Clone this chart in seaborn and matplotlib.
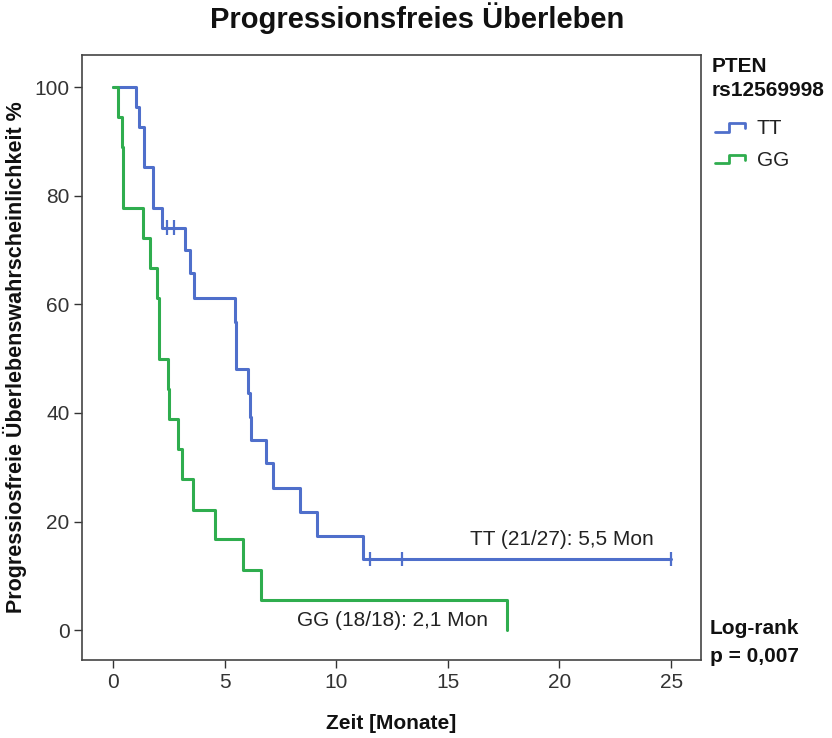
import numpy as np
import pandas as pd
import matplotlib
matplotlib.use("Agg")
import matplotlib.pyplot as plt
from matplotlib.lines import Line2D
from matplotlib.legend_handler import HandlerBase
import seaborn as sns

# Kaplan-Meier Stufen
tt_time = [0, 1.03, 1.18, 1.40, 1.81, 2.21, 3.23, 3.45, 3.64, 5.47, 5.51, 6.06, 6.13,
           6.19, 6.84, 7.15, 8.38, 9.15, 11.21, 25.0]
tt_surv = [100, 96.3, 92.6, 85.2, 77.8, 74.1, 70.0, 65.8, 61.2, 56.8, 48.0, 43.7, 39.3,
           35.0, 30.8, 26.1, 21.8, 17.4, 13.1, 13.1]
tt_cens_time = [2.40, 2.73, 11.51, 12.93, 25.0]
tt_cens_surv = [74.1, 74.1, 13.1, 13.1, 13.1]

gg_time = [0, 0.21, 0.39, 0.46, 1.33, 1.66, 1.96, 2.07, 2.48, 2.52, 2.90, 3.08, 3.57,
           4.57, 5.81, 6.63, 17.64]
gg_surv = [100, 94.4, 88.9, 77.8, 72.2, 66.7, 61.1, 50.0, 44.4, 38.9, 33.3, 27.8, 22.2,
           16.7, 11.1, 5.6, 0]

groups = ['TT', 'GG']
colors = {'TT': '#4f6fcb', 'GG': '#2fad4e'}
x_ticks = [0, 5, 10, 15, 20, 25]
y_ticks = [0, 20, 40, 60, 80, 100]

df = pd.concat([
    pd.DataFrame({'Zeit': tt_time, 'Surv': tt_surv, 'Gruppe': 'TT'}),
    pd.DataFrame({'Zeit': gg_time, 'Surv': gg_surv, 'Gruppe': 'GG'}),
])
cens = pd.DataFrame({'Zeit': tt_cens_time, 'Surv': tt_cens_surv, 'Gruppe': 'TT'})

sns.set_style('white')
plt.rcParams['font.family'] = ['Liberation Sans', 'DejaVu Sans']

fig = plt.figure(figsize=(8.32, 7.38), dpi=100)
ax = fig.add_axes([82 / 832, 1 - 660 / 738, 619 / 832, 605 / 738])

sns.lineplot(data=df, x='Zeit', y='Surv', hue='Gruppe', palette=colors,
             drawstyle='steps-post', linewidth=2.2, legend=False, ax=ax,
             estimator=None, sort=False)
sns.scatterplot(data=cens, x='Zeit', y='Surv', hue='Gruppe', palette=colors,
                marker='|', s=110, linewidth=1.6, legend=False, ax=ax, zorder=3)

ax.set_xlim(-1.39, 26.34)
ax.set_ylim(-5.5, 105.9)
ax.set_xticks(x_ticks)
ax.set_yticks(y_ticks)
ax.tick_params(axis='both', direction='out', length=6, width=1, color='#333333',
               labelsize=15, labelcolor='#333333', pad=3, bottom=True, left=True)
for s in ax.spines.values():
    s.set_color('#444444')
    s.set_linewidth(1.2)

ax.set_xlabel('Zeit [Monate]', fontsize=15, fontweight='bold', labelpad=16,
              color='#111111')
ax.set_ylabel('Progressiosfreie Überlebenswahrscheinlichkeit %', fontsize=15.5,
              fontweight='bold', labelpad=5, color='#111111')
fig.text(417 / 832, 1 - 18 / 738, 'Progressionsfreies Überleben', ha='center',
         va='center', fontsize=21, fontweight='bold', color='#111111')

ax.text(20.1, 16.6, 'TT (21/27): 5,5 Mon', ha='center', va='center', fontsize=15,
        color='#222222')
ax.text(12.5, 1.8, 'GG (18/18): 2,1 Mon', ha='center', va='center', fontsize=15,
        color='#222222')

# Legende
fig.text(712 / 832, 1 - 66 / 738, 'PTEN', ha='left', va='center', fontsize=15,
         fontweight='bold', color='#111111')
fig.text(712 / 832, 1 - 91 / 738, 'rs12569998', ha='left', va='center', fontsize=15,
         fontweight='bold', color='#111111')


class StepHandler(HandlerBase):
    def create_artists(self, legend, orig_handle, xdescent, ydescent, width, height,
                       fontsize, trans):
        xs = np.array([0, 0.45, 0.45, 1.0, 1.0]) * width - xdescent
        ys = np.array([0.15, 0.15, 0.75, 0.75, 0.4]) * height - ydescent
        line = Line2D(xs, ys, color=orig_handle.get_color(), linewidth=2.0)
        line.set_transform(trans)
        return [line]


handles = [Line2D([], [], color=colors[g]) for g in groups]
fig.legend(handles, groups, handler_map={Line2D: StepHandler()},
           loc='upper left', bbox_to_anchor=(715 / 832, 1 - 119 / 738),
           frameon=False, fontsize=15, handlelength=1.45, handletextpad=0.55,
           labelspacing=0.6, borderaxespad=0, borderpad=0, labelcolor='#222222')

fig.text(710 / 832, 1 - 628 / 738, 'Log-rank', ha='left', va='center', fontsize=15,
         fontweight='bold', color='#111111')
fig.text(710 / 832, 1 - 656 / 738, 'p = 0,007', ha='left', va='center', fontsize=15,
         fontweight='bold', color='#111111')

fig.savefig('out.png', dpi=100)
